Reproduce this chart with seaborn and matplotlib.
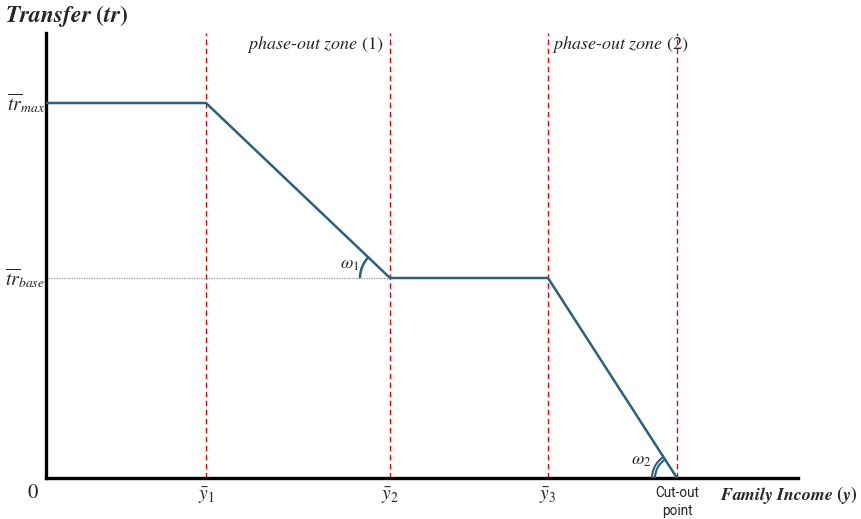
import matplotlib
matplotlib.use("Agg")
import matplotlib.pyplot as plt
import seaborn as sns
import pandas as pd
from matplotlib.patches import Arc

sns.set_theme(style="white")
plt.rcParams['font.family'] = ['DejaVu Serif']
plt.rcParams['mathtext.fontset'] = 'stix'

# data (schematic units)
income = [0, 160, 344, 502, 631]
transfer = [375, 375, 200, 200, 0]
thresholds = [160, 344, 502, 631]
tick_labels = [r"$\bar{y}_1$", r"$\bar{y}_2$", r"$\bar{y}_3$"]
tr_max, tr_base = 375, 200
x_max, y_max = 752, 445

df = pd.DataFrame({"income": income, "transfer": transfer})

fig = plt.figure(figsize=(8.62, 5.19), dpi=100)
ax = fig.add_axes([46/862, 41/519, 752/862, 445/519])
ax.set_xlim(0, x_max)
ax.set_ylim(0, y_max)

line_col = "#2a6080"
for t in thresholds:
    ax.axvline(t, color="#d01010", ls=(0, (4, 2.5)), lw=1.0, zorder=1)
ax.plot([0, income[2]], [tr_base, tr_base], color="#909090", ls=(0, (1, 1)), lw=0.9, zorder=1)

sns.lineplot(data=df, x="income", y="transfer", ax=ax, color=line_col, lw=1.8, zorder=3)

# angle arcs (data units equal pixels)
ax.add_patch(Arc((income[2], tr_base), 60, 60, theta1=136.4, theta2=180, color=line_col, lw=1.8, zorder=3))
ax.add_patch(Arc((income[4], 0), 44, 44, theta1=122.8, theta2=180, color=line_col, lw=1.5, zorder=3))
ax.add_patch(Arc((income[4], 0), 50, 50, theta1=122.8, theta2=180, color=line_col, lw=1.5, zorder=3))

ax.text(348 - 46 + 2, 478 - 264, r"$\omega_1$", fontsize=13, ha="center", va="center")
ax.text(641 - 46, 478 - 460, r"$\omega_2$", fontsize=13, ha="center", va="center")

ax.set_xticks([])
ax.set_yticks([])
ax.set_xlabel("")
ax.set_ylabel("")
for s in ["top", "right"]:
    ax.spines[s].set_visible(False)
for s in ["left", "bottom"]:
    ax.spines[s].set_linewidth(2.4)
    ax.spines[s].set_color("black")

# labels
fig.text(5/862, 1 - 16/519, r"$\boldsymbol{Transfer}\ \mathbf{(}\boldsymbol{tr}\mathbf{)}$", fontsize=17, ha="left", va="center")
ax.text(-1, tr_max, r"$\overline{tr}_{max}$", fontsize=14, ha="right", va="center", clip_on=False)
ax.text(-1, tr_base, r"$\overline{tr}_{base}$", fontsize=14, ha="right", va="center", clip_on=False)
ax.text(-13, -15, "$0$", fontsize=15, ha="center", va="center", clip_on=False)
for t, lab in zip(thresholds[:3], tick_labels):
    ax.text(t, -18, lab, fontsize=14, ha="center", va="center", clip_on=False)
ax.text(income[4], -24, "Cut-out\npoint", fontsize=9.8, ha="center", va="center",
        family="Roboto", linespacing=1.45, clip_on=False)
ax.text(674, -17, r"$\boldsymbol{Family\ Income}\ \mathbf{(}\boldsymbol{y}\mathbf{)}$", fontsize=12.8,
        ha="left", va="center", clip_on=False)
ax.text(201, 433, r"$\mathit{phase\text{-}out\ zone}\ (1)$", fontsize=13, ha="left", va="center")
ax.text(506, 433, r"$\mathit{phase\text{-}out\ zone}\ (2)$", fontsize=13, ha="left", va="center")

fig.savefig("out.png", dpi=100)
